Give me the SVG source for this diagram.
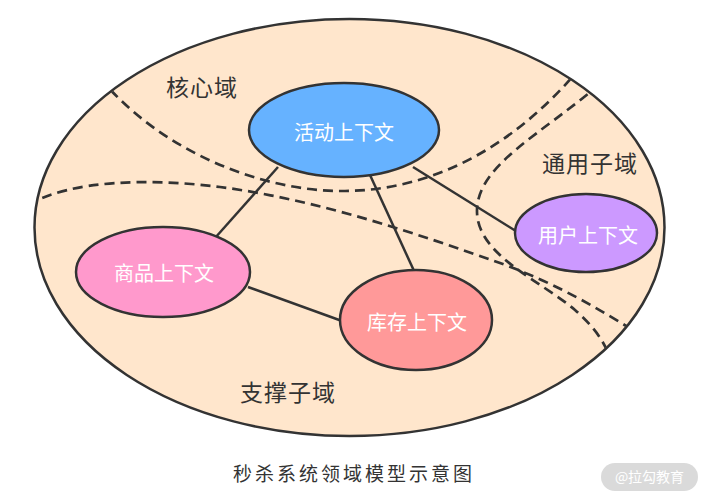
<svg xmlns="http://www.w3.org/2000/svg" width="709" height="500" viewBox="0 0 709 500">
<style>
.bd{fill:none;stroke:#333;stroke-width:2.7;stroke-dasharray:10 6}
.ln{fill:none;stroke:#333;stroke-width:2.5}
.nd{stroke:#333;stroke-width:2.5}
.nt{font-family:"Noto Sans CJK SC","Noto Sans",sans-serif;font-size:20px;fill:#fff;text-anchor:middle;dominant-baseline:central}
.lb{font-family:"Noto Sans CJK SC","Noto Sans",sans-serif;font-size:23px;fill:#333;text-anchor:middle;letter-spacing:1px}
</style>
<defs>
<clipPath id="clip"><ellipse cx="349.5" cy="227.5" rx="314" ry="207.5"/></clipPath>
</defs>
<rect width="709" height="500" fill="#fff"/>
<g id="domain">
<ellipse cx="349.5" cy="227.5" rx="315" ry="208.5" fill="#FFE6CC"/>
</g>
<g id="boundaries" clip-path="url(#clip)">
<path class="bd" d="M100,78 C160,150 260,192 345,191 C440,190 520,140 580,68"/>
<path class="bd" d="M600,84 C540,135 478,165 477,210 C476,255 540,280 575,310 C592,325 604,340 610,358"/>
<path class="bd" d="M28,205 C70,180 150,178 220,187 C320,200 420,235 500,263 C560,285 600,310 636,332"/>
</g>
<g id="outline">
<ellipse cx="349.5" cy="227.5" rx="315" ry="208.5" fill="none" stroke="#333" stroke-width="2.5"/>
</g>
<g id="connectors">
<line class="ln" x1="278" y1="167" x2="215" y2="238"/>
<line class="ln" x1="370" y1="175" x2="415" y2="273"/>
<line class="ln" x1="413" y1="167" x2="519" y2="233"/>
<line class="ln" x1="248" y1="287" x2="342" y2="321"/>
</g>
<g id="activity">
<ellipse class="nd" cx="344" cy="130" rx="95" ry="47" fill="#66B2FF"/>
<text class="nt" x="344" y="131">活动上下文</text>
</g>
<g id="product">
<ellipse class="nd" cx="163" cy="272" rx="87" ry="45" fill="#FF99CC"/>
<text class="nt" x="164" y="272">商品上下文</text>
</g>
<g id="inventory">
<ellipse class="nd" cx="416" cy="320" rx="76" ry="50" fill="#FF9999"/>
<text class="nt" x="417" y="321">库存上下文</text>
</g>
<g id="user">
<ellipse class="nd" cx="586" cy="233" rx="71" ry="39" fill="#CC99FF"/>
<text class="nt" x="588" y="234">用户上下文</text>
</g>
<g id="labels">
<text class="lb" x="202" y="96">核心域</text>
<text class="lb" x="590" y="172">通用子域</text>
<text class="lb" x="288" y="401">支撑子域</text>
</g>
<g id="title">
<text x="354" y="481" font-family="'Noto Sans CJK SC','Noto Sans',sans-serif" font-size="19" fill="#333" text-anchor="middle" letter-spacing="3">秒杀系统领域模型示意图</text>
</g>
<g id="watermark">
<rect x="601" y="463" width="97" height="28" rx="14" fill="#DADADA"/>
<text x="649.5" y="482" font-family="'Noto Sans CJK SC','Noto Sans',sans-serif" font-size="14" fill="#fff" text-anchor="middle">@拉勾教育</text>
</g>
</svg>
